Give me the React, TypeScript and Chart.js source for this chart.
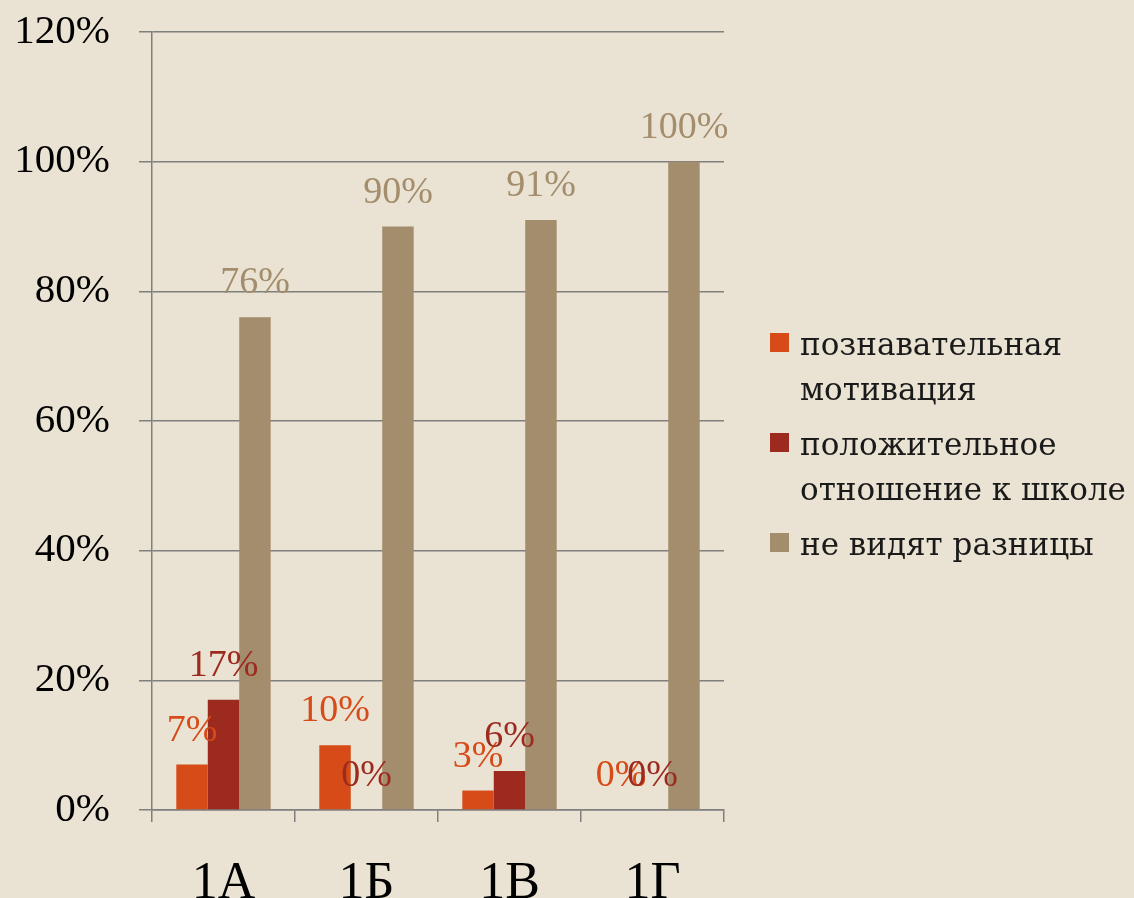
import React, { useEffect, useRef } from "react";
import { Chart, registerables } from "chart.js";

Chart.register(...registerables);

const categories = ["1А", "1Б", "1В", "1Г"];
const seriesLabels = [
  ["познавательная", "мотивация"],
  ["положительное", "отношение к школе"],
  ["не видят разницы"],
];
const motivation = [7, 10, 3, 0];
const positive = [17, 0, 6, 0];
const noDifference = [76, 90, 91, 100];
const seriesColors = ["#D64B18", "#9C2A1E", "#A38D6C"];
const yTicks = [0, 20, 40, 60, 80, 100, 120];

const dataLabelPlugin = {
  id: "dataLabels",
  afterDatasetsDraw(chart: any) {
    const ctx = chart.ctx;
    ctx.save();
    ctx.font = "38px 'Liberation Serif'";
    ctx.textAlign = "center";
    ctx.textBaseline = "alphabetic";
    chart.data.datasets.forEach((ds: any, i: number) => {
      const meta = chart.getDatasetMeta(i);
      ctx.fillStyle = ds.backgroundColor;
      meta.data.forEach((bar: any, j: number) => {
        ctx.fillText(ds.data[j] + "%", bar.x, bar.y - 24);
      });
    });
    ctx.restore();
  },
};

const legendPlugin = {
  id: "customLegend",
  afterDraw(chart: any) {
    const ctx = chart.ctx;
    ctx.save();
    ctx.font = "31px 'DejaVu Serif'";
    ctx.textBaseline = "alphabetic";
    ctx.textAlign = "left";
    let baseline = 355;
    const lineH = 45;
    const itemGap = 55;
    chart.data.datasets.forEach((ds: any, i: number) => {
      const lines: string[] = seriesLabels[i];
      ctx.fillStyle = ds.backgroundColor;
      ctx.fillRect(770, baseline - 22, 19, 19);
      ctx.fillStyle = "#1a1a1a";
      lines.forEach((line, k) => {
        ctx.fillText(line, 800, baseline + k * lineH);
      });
      baseline += (lines.length - 1) * lineH + itemGap;
    });
    ctx.restore();
  },
};

export default function App() {
  const ref = useRef<HTMLCanvasElement>(null);
  useEffect(() => {
    if (!ref.current) return;
    const chart = new Chart(ref.current, {
      type: "bar",
      data: {
        labels: categories,
        datasets: [
          { label: seriesLabels[0].join(" "), data: motivation, backgroundColor: seriesColors[0] },
          { label: seriesLabels[1].join(" "), data: positive, backgroundColor: seriesColors[1] },
          { label: seriesLabels[2].join(" "), data: noDifference, backgroundColor: seriesColors[2] },
        ],
      },
      options: {
        responsive: false,
        animation: false,
        layout: { padding: { top: 32, right: 410, left: 0, bottom: 0 } },
        datasets: { bar: { categoryPercentage: 0.66, barPercentage: 1 } },
        plugins: {
          legend: { display: false },
          tooltip: { enabled: false },
        },
        scales: {
          x: {
            afterFit: (s: any) => {
              s.height = 88;
            },
            grid: {
              offset: true,
              drawOnChartArea: false,
              drawTicks: true,
              tickLength: 12,
              color: "#7f7f7f",
              lineWidth: 1.5,
            },
            border: { color: "#7f7f7f", width: 1.5 },
            ticks: {
              color: "#000000",
              font: { family: "'Liberation Serif'", size: 52 },
              padding: 31,
            },
          },
          y: {
            min: 0,
            max: 120,
            afterFit: (s: any) => {
              s.width = 152;
              s.paddingTop = 0;
              s.paddingBottom = 0;
            },
            afterBuildTicks: (s: any) => {
              s.ticks = yTicks.map((v) => ({ value: v }));
            },
            grid: {
              color: "#7f7f7f",
              lineWidth: 1.5,
              drawTicks: true,
              tickLength: 13,
            },
            border: { color: "#7f7f7f", width: 1.5 },
            ticks: {
              color: "#000000",
              font: { family: "'Liberation Serif'", size: 41 },
              padding: 29,
              callback: (v: any) => v + "%",
            },
          },
        },
      },
      plugins: [dataLabelPlugin, legendPlugin],
    });
    return () => chart.destroy();
  }, []);
  return (
    <div
      style={{
        position: "fixed",
        left: 0,
        top: 0,
        width: 1134,
        height: 898,
        background: "#EAE3D3",
      }}
    >
      <canvas ref={ref} width={1134} height={898} />
    </div>
  );
}
